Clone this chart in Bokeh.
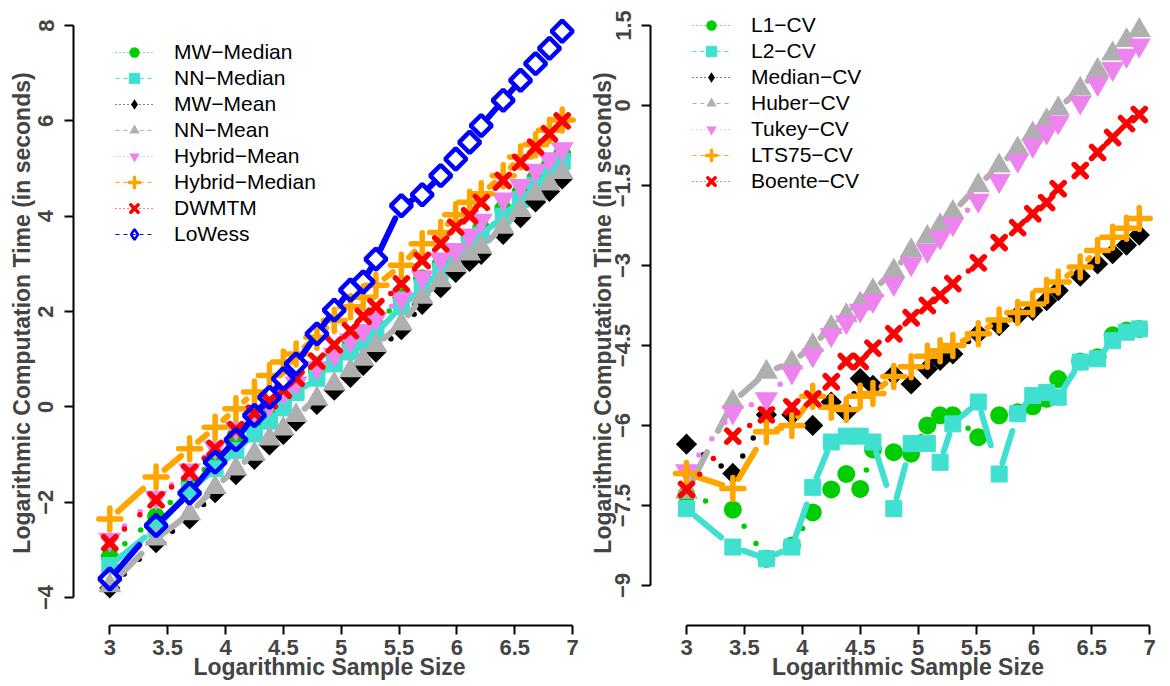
import math
from bokeh.plotting import figure
from bokeh.layouts import row
from bokeh.models import Legend, LegendItem, FixedTicker, Range1d
from bokeh.embed import file_html
from bokeh.resources import INLINE

# ---------------- data ----------------
log_n = [3.00, 3.40, 3.69, 3.91, 4.09, 4.25, 4.38, 4.50, 4.61, 4.79, 4.94, 5.08, 5.19,
         5.30, 5.52, 5.70, 5.86, 5.99, 6.11, 6.21, 6.40, 6.55, 6.68, 6.80, 6.91]

# left panel
mw_median = [-3.15, -2.3, -1.6, -1.1, -0.6, -0.3, -0.05, 0.2, 0.45, 0.75, 1.1, 1.3, 1.5,
             1.7, 2.3, 2.7, 3.0, 3.25, 3.55, 3.75, 4.15, 4.5, 4.8, 5.05, 5.3]
nn_median = [-3.33, -2.55, -1.75, -1.3, -0.92, -0.57, -0.3, -0.02, 0.3, 0.6, 0.9, 1.15, 1.35,
             1.55, 2.1, 2.5, 2.85, 3.1, 3.4, 3.6, 4.0, 4.35, 4.65, 4.9, 5.15]
mw_mean = [-3.8, -2.85, -2.35, -1.8, -1.42, -1.1, -0.8, -0.58, -0.3, 0.05, 0.35, 0.62, 0.87,
           1.15, 1.62, 2.15, 2.5, 2.82, 3.05, 3.2, 3.62, 3.97, 4.3, 4.52, 4.78]
nn_mean = [-3.75, -2.77, -2.24, -1.69, -1.3, -0.99, -0.67, -0.46, -0.18, 0.17, 0.48, 0.76, 1.0,
           1.29, 1.74, 2.3, 2.65, 2.97, 3.21, 3.35, 3.77, 4.12, 4.47, 4.68, 4.92]
hybrid_mean = [-2.78, -1.9, -1.33, -0.85, -0.45, -0.15, 0.05, 0.3, 0.5, 0.82, 1.1, 1.4, 1.6,
               1.85, 2.28, 2.72, 3.1, 3.3, 3.6, 3.91, 4.36, 4.64, 4.96, 5.2, 5.41]
hybrid_median = [-2.35, -1.47, -0.88, -0.43, -0.04, 0.31, 0.66, 0.94, 1.11, 1.46, 1.81, 2.1, 2.3,
                 2.55, 2.97, 3.42, 3.66, 4.03, 4.29, 4.47, 4.85, 5.24, 5.5, 5.8, 6.02]
dwmtm = [-2.85, -1.95, -1.37, -0.87, -0.48, -0.13, 0.13, 0.35, 0.6, 0.96, 1.3, 1.6, 1.9,
         2.1, 2.58, 3.07, 3.42, 3.77, 4.01, 4.29, 4.75, 5.13, 5.45, 5.73, 6.0]
lowess = [-3.61, -2.49, -1.81, -1.16, -0.69, -0.18, 0.2, 0.59, 0.9, 1.53, 2.03, 2.45, 2.62,
          3.1, 4.22, 4.45, 4.85, 5.2, 5.55, 5.9, 6.43, 6.85, 7.2, 7.52, 7.88]

# right panel
l1_cv = [-7.3, -7.58, -8.5, -8.25, -7.63, -7.2, -6.91, -7.19, -6.45, -6.5, -6.53, -6.0, -5.81,
         -5.81, -6.22, -5.81, -5.75, -5.64, -5.5, -5.13, -4.8, -4.72, -4.31, -4.22, -4.19]
l2_cv = [-7.56, -8.28, -8.5, -8.28, -7.16, -6.31, -6.2, -6.2, -6.31, -7.56, -6.34, -6.34, -6.69,
         -5.97, -5.56, -6.91, -5.78, -5.44, -5.38, -5.47, -4.81, -4.75, -4.41, -4.25, -4.19]
median_cv = [-6.35, -6.9, -5.8, -5.8, -6.0, -5.56, -5.75, -5.12, -5.25, -5.05, -5.22, -4.94, -4.78,
             -4.66, -4.28, -4.13, -3.94, -3.84, -3.66, -3.47, -3.2, -2.97, -2.78, -2.62, -2.43]
huber_cv = [-7.25, -5.56, -5.0, -4.82, -4.5, -4.16, -3.94, -3.72, -3.47, -3.1, -2.72, -2.47, -2.25,
            -2.0, -1.5, -1.13, -0.81, -0.53, -0.28, -0.06, 0.31, 0.66, 0.97, 1.22, 1.41]
tukey_cv = [-6.85, -5.75, -5.5, -5.0, -4.68, -4.3, -4.06, -3.84, -3.66, -3.34, -2.97, -2.72, -2.47,
            -2.22, -1.78, -1.41, -1.03, -0.75, -0.5, -0.31, 0.06, 0.41, 0.69, 0.94, 1.13]
lts75_cv = [-6.9, -7.18, -6.12, -6.0, -5.45, -5.66, -5.7, -5.45, -5.4, -5.08, -4.9, -4.7, -4.6,
            -4.5, -4.28, -4.02, -3.88, -3.72, -3.47, -3.31, -3.03, -2.72, -2.47, -2.3, -2.12]
boente_cv = [-7.2, -6.2, -5.8, -5.65, -5.5, -5.18, -4.8, -4.8, -4.55, -4.28, -3.98, -3.75, -3.56,
             -3.34, -2.95, -2.57, -2.29, -2.03, -1.82, -1.56, -1.22, -0.88, -0.6, -0.34, -0.17]

x_ticks = [3, 3.5, 4, 4.5, 5, 5.5, 6, 6.5, 7]
x_tick_labels = ["3", "3.5", "4", "4.5", "5", "5.5", "6", "6.5", "7"]
left_y_ticks = [-4, -2, 0, 2, 4, 6, 8]
left_y_labels = ["\u22124", "\u22122", "0", "2", "4", "6", "8"]
right_y_ticks = [-9, -7.5, -6, -4.5, -3, -1.5, 0, 1.5]
right_y_labels = ["\u22129", "\u22127.5", "\u22126", "\u22124.5", "\u22123", "\u22121.5", "0", "1.5"]

GREEN, TURQ, BLACK, GRAY, VIOLET, ORANGE, RED, BLUE = (
    "#00CD00", "#40E0D0", "#000000", "#AFAFAF", "#EE82EE", "#FFA500", "#FF0000", "#0000FF")

left_series = [
    ("MW\u2212Median", mw_median, GREEN, "dot", "circle"),
    ("NN\u2212Median", nn_median, TURQ, "dash", "square"),
    ("MW\u2212Mean", mw_mean, BLACK, "dot", "diamond"),
    ("NN\u2212Mean", nn_mean, GRAY, "dash", "triangle"),
    ("Hybrid\u2212Mean", hybrid_mean, VIOLET, "dot", "inverted_triangle"),
    ("Hybrid\u2212Median", hybrid_median, ORANGE, "dash", "cross"),
    ("DWMTM", dwmtm, RED, "dot", "x"),
    ("LoWess", lowess, BLUE, "dash", "open_diamond"),
]
right_series = [
    ("L1\u2212CV", l1_cv, GREEN, "dot", "circle"),
    ("L2\u2212CV", l2_cv, TURQ, "dash", "square"),
    ("Median\u2212CV", median_cv, BLACK, "dot", "diamond"),
    ("Huber\u2212CV", huber_cv, GRAY, "dash", "triangle"),
    ("Tukey\u2212CV", tukey_cv, VIOLET, "dot", "inverted_triangle"),
    ("LTS75\u2212CV", lts75_cv, ORANGE, "dash", "cross"),
    ("Boente\u2212CV", boente_cv, RED, "dot", "x"),
]

FONT = "Liberation Sans"
FRAME_H = 625
BOTTOM = 61


def marker_kwargs(kind, color, legend=False):
    if kind == "circle":
        return dict(marker="circle", size=18, fill_color=color, line_color=None)
    if kind == "square":
        return dict(marker="square", size=16, fill_color=color, line_color=color,
                    line_width=1, line_join="round")
    if kind == "diamond":
        if legend:
            return dict(marker="diamond", size=15, fill_color=color, line_color=None)
        return dict(marker="square", size=15, angle=math.pi / 4, fill_color=color, line_color=None)
    if kind == "triangle":
        return dict(marker="triangle", size=23, fill_color=color, line_color=None)
    if kind == "inverted_triangle":
        return dict(marker="inverted_triangle", size=23, fill_color=color, line_color=None)
    if kind == "cross":
        return dict(marker="cross", size=22, line_color=color, line_width=3.5 if legend else 5.5,
                    line_cap="round")
    if kind == "x":
        return dict(marker="x", size=17, line_color=color, line_width=3.5 if legend else 5.5,
                    line_cap="round")
    if kind == "open_diamond":
        if legend:
            return dict(marker="diamond", size=15, fill_color=None, line_color=color, line_width=2.5)
        return dict(marker="square", size=15, angle=math.pi / 4, fill_color=None,
                    line_color=color, line_width=4.5)


def gapped_segments(xs, ys, xr, yr, fw, fh, gap=11.0):
    kx = fw / (xr[1] - xr[0])
    ky = fh / (yr[1] - yr[0])
    x0, y0, x1, y1 = [], [], [], []
    for i in range(len(xs) - 1):
        ddx = xs[i + 1] - xs[i]
        ddy = ys[i + 1] - ys[i]
        L = math.hypot(ddx * kx, ddy * ky)
        if L <= 2 * gap + 1:
            continue
        f = gap / L
        x0.append(xs[i] + ddx * f)
        y0.append(ys[i] + ddy * f)
        x1.append(xs[i + 1] - ddx * f)
        y1.append(ys[i + 1] - ddy * f)
    return dict(x0=x0, y0=y0, x1=x1, y1=y1)


def make_panel(series, xr, yr, ml, mr, fw, y_ticks, y_labels, y_bounds, legend_xy, ytitle_off):
    fh = FRAME_H
    p = figure(frame_width=fw, frame_height=fh, x_range=Range1d(*xr), y_range=Range1d(*yr),
               output_backend="svg", toolbar_location=None,
               min_border_left=ml, min_border_right=mr, min_border_top=0,
               min_border_bottom=BOTTOM)
    p.outline_line_color = None
    p.grid.visible = False
    p.background_fill_color = "white"
    p.border_fill_color = "white"
    # a range far outside the frame, used only by the legend's sample glyphs
    p.extra_y_ranges = {"legend_only": Range1d(1e6, 1e6 + 1)}

    for ax in (p.xaxis[0], p.yaxis[0]):
        ax.axis_line_width = 2
        ax.major_tick_line_width = 2
        ax.major_tick_out = 9
        ax.major_tick_in = 0
        ax.minor_tick_line_color = None
        ax.major_label_text_font = FONT
        ax.major_label_text_font_style = "bold"
        ax.major_label_text_font_size = "22px"
        ax.axis_label_text_font = FONT
        ax.axis_label_text_font_style = "bold"
        ax.axis_label_text_font_size = "23px"

    xa = p.xaxis[0]
    xa.bounds = (3, 7)
    xa.ticker = FixedTicker(ticks=x_ticks)
    xa.major_label_overrides = dict(zip(x_ticks, x_tick_labels))
    xa.major_label_standoff = 5
    xa.axis_label = "Logarithmic Sample Size"
    xa.axis_label_standoff = -4

    ya = p.yaxis[0]
    ya.bounds = y_bounds
    ya.ticker = FixedTicker(ticks=y_ticks)
    ya.major_label_overrides = dict(zip(y_ticks, y_labels))
    ya.major_label_orientation = "vertical"
    ya.major_label_standoff = 11
    ya.axis_label = "Logarithmic Computation Time (in seconds)"
    ya.axis_label_standoff = ytitle_off

    items = []
    for name, ys, color, style, kind in series:
        segs = gapped_segments(log_n, ys, xr, yr, fw, fh)
        if style == "dot":
            p.segment(x0="x0", y0="y0", x1="x1", y1="y1", source=segs, line_color=color,
                      line_width=5.5, line_dash="0 21", line_dash_offset=12, line_cap="round")
        else:
            p.segment(x0="x0", y0="y0", x1="x1", y1="y1", source=segs, line_color=color,
                      line_width=6, line_dash="34 24", line_cap="round")
        p.scatter(log_n, ys, **marker_kwargs(kind, color))
        # legend sample glyphs (thin line + marker), drawn on the off-frame range
        lr = p.line(log_n, ys, line_color=color, line_width=1, y_range_name="legend_only",
                    line_dash="1 3" if style == "dot" else "4 4")
        sr = p.scatter(log_n, ys, y_range_name="legend_only",
                       **marker_kwargs(kind, color, legend=True))
        items.append(LegendItem(label=name, renderers=[lr, sr]))

    legend = Legend(items=items, location=legend_xy, orientation="vertical",
                    glyph_width=38, glyph_height=26, label_height=26, spacing=0,
                    padding=0, margin=0, label_standoff=21,
                    label_text_font=FONT, label_text_font_size="21px",
                    label_text_color="black",
                    border_line_alpha=0, background_fill_alpha=0)
    p.add_layout(legend)
    return p


# left panel geometry (frame from x=73 to 585, y=0 to 625)
L_ML, L_MR, L_FW = 73, 0, 512
left_xr = (3 - 36.3 / 115.7, 3 - 36.3 / 115.7 + L_FW / 115.7)
left_yr = (8 + 25 / 47.67 - FRAME_H / 47.67, 8 + 25 / 47.67)
# right panel geometry (frame from x=650 to 1165)
R_ML, R_MR, R_FW = 65, 5, 515
right_xr = (3 - 36.0 / 115.8, 3 - 36.0 / 115.8 + R_FW / 115.8)
right_yr = (1.5 + 25 / 53.33 - FRAME_H / 53.33, 1.5 + 25 / 53.33)

p1 = make_panel(left_series, left_xr, left_yr, L_ML, L_MR, L_FW,
                left_y_ticks, left_y_labels, (-4, 8), (42, 377.7), 1)
p2 = make_panel(right_series, right_xr, right_yr, R_ML, R_MR, R_FW,
                right_y_ticks, right_y_labels, (-9, 1.5), (42, 430.7), -3)

layout = row(p1, p2)
open("out.html", "w").write(file_html(layout, INLINE))
